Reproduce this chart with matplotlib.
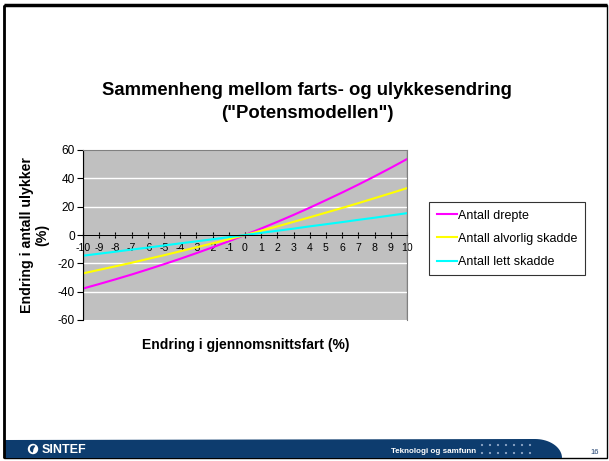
import numpy as np
import matplotlib.pyplot as plt
from matplotlib.patches import Rectangle, Polygon, Circle, Wedge

plt.rcParams['font.family'] = ['Liberation Sans', 'DejaVu Sans']
plt.rcParams['axes.unicode_minus'] = False

# endring i gjennomsnittsfart (%)
fart = [-10, -9, -8, -7, -6, -5, -4, -3, -2, -1, 0, 1, 2, 3, 4, 5, 6, 7, 8, 9, 10]
# endring i antall ulykker (%)
drepte = [-37.8, -34.6, -31.3, -27.9, -24.3, -20.6, -16.8, -12.8, -8.7, -4.4, 0.0,
          4.6, 9.3, 14.2, 19.3, 24.6, 30.0, 35.6, 41.4, 47.4, 53.6]
alvorlig = [-27.1, -24.6, -22.1, -19.6, -16.9, -14.3, -11.5, -8.7, -5.9, -3.0, 0.0,
            3.0, 6.1, 9.3, 12.5, 15.8, 19.1, 22.5, 26.0, 29.5, 33.1]
lett = [-14.6, -13.2, -11.8, -10.3, -8.9, -7.4, -5.9, -4.5, -3.0, -1.5, 0.0,
        1.5, 3.0, 4.5, 6.1, 7.6, 9.1, 10.7, 12.2, 13.8, 15.4]
navn = ["Antall drepte", "Antall alvorlig skadde", "Antall lett skadde"]
farger = ["#ff00ff", "#ffff00", "#00ffff"]
yticks = [-60, -40, -20, 0, 20, 40, 60]

W, H = 609, 461
fig = plt.figure(figsize=(W / 100, H / 100), dpi=100)
fig.patch.set_facecolor("white")

# slide decoration in pixel coordinates
bg = fig.add_axes([0, 0, 1, 1], zorder=0)
bg.set_xlim(0, W)
bg.set_ylim(H, 0)
bg.axis("off")
bg.add_patch(Rectangle((4, 5), 603, 453, fill=False, edgecolor="black", lw=1.0))
bg.plot([4, 607], [5, 5], color="black", lw=2.5, solid_capstyle="butt")
bg.plot([4, 4], [5, 458], color="black", lw=2.0, solid_capstyle="butt")
t = np.linspace(0, np.pi / 2, 20)
kurve = [(535 + 27 * np.sin(a), 458 - 19 * np.cos(a)) for a in t]
band = [(4, 458), (4, 440)] + [(535, 439)] + kurve + [(562, 458)]
bg.add_patch(Polygon(band, closed=True, facecolor="#0d3c6e", edgecolor="none"))
for yy in (445, 453):
    for xx in np.arange(482, 531, 8):
        bg.add_patch(Circle((xx, yy), 1.1, facecolor="#8fa8c8", edgecolor="none"))
bg.text(434, 451, "Teknologi og samfunn", color="white", fontsize=5.8,
        fontweight="bold", ha="center", va="center")
bg.text(595, 452, "16", color="#1d3f6e", fontsize=5.5, ha="center", va="center")
bg.add_patch(Circle((33, 449), 5.2, facecolor="white", edgecolor="none"))
bg.add_patch(Wedge((33.5, 449), 3.6, 100, 300, facecolor="#0d3c6e", edgecolor="none"))
bg.text(42, 449.5, "SINTEF", color="white", fontsize=9, fontweight="bold",
        ha="left", va="center")

# title
fig.text(307 / W, 1 - 102 / H, "Sammenheng mellom farts- og ulykkesendring\n(\"Potensmodellen\")",
         ha="center", va="center", fontsize=13.3, fontweight="bold", linespacing=1.45)

ax = fig.add_axes([83 / W, 1 - 320 / H, 324 / W, 170 / H], zorder=1)
ax.set_facecolor("#c0c0c0")
ax.plot(fart, drepte, color=farger[0], lw=1.5, label=navn[0])
ax.plot(fart, alvorlig, color=farger[1], lw=1.5, label=navn[1])
ax.plot(fart, lett, color=farger[2], lw=1.5, label=navn[2])

ax.set_xlim(-10, 10)
ax.set_ylim(-60, 60)
ax.set_yticks(yticks)
ax.set_xticks(fart)
ax.yaxis.grid(True, color="white", lw=1.0)
ax.set_axisbelow(True)

ax.spines["bottom"].set_position(("data", 0))
ax.spines["bottom"].set_color("black")
ax.spines["left"].set_color("black")
ax.spines["top"].set_color("#808080")
ax.spines["right"].set_color("#808080")
ax.add_patch(Rectangle((0, 0), 1, 1, transform=ax.transAxes, fill=False,
                       edgecolor="#808080", lw=1.0, zorder=0.5))
ax.tick_params(axis="x", direction="inout", length=5, width=0.8, pad=3,
               labelsize=7.6, colors="black")
ax.tick_params(axis="y", direction="out", length=4, width=0.8, pad=2,
               labelsize=8.6)

ax.set_ylabel("Endring i antall ulykker\n(%)", fontsize=10.2, fontweight="bold",
              labelpad=6, linespacing=1.15)
fig.text(246 / W, 1 - 345 / H, "Endring i gjennomsnittsfart (%)", ha="center",
         va="center", fontsize=10, fontweight="bold")

leg = fig.legend(loc="upper left", bbox_to_anchor=(429 / W, 1 - 202 / H),
                 borderaxespad=0, fontsize=9.0, frameon=True, fancybox=False,
                 edgecolor="black", handlelength=1.6, handletextpad=0.15,
                 labelspacing=0.9, borderpad=0.6)
leg.get_frame().set_linewidth(0.8)

fig.savefig("out.png", dpi=100)
